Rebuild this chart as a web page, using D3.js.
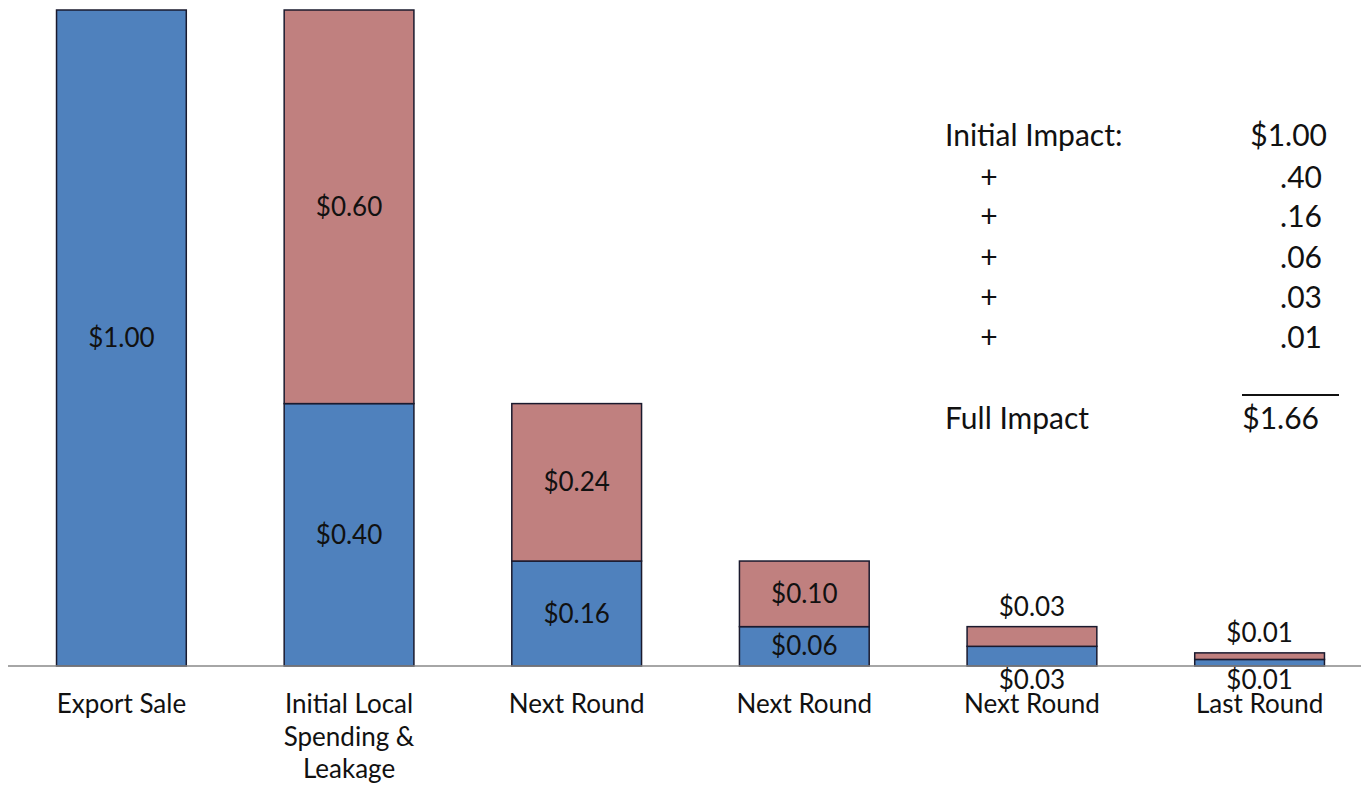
<!DOCTYPE html>
<html lang="en">
<head>
<meta charset="UTF-8">
<title>Export Multiplier</title>
<script src="https://cdn.jsdelivr.net/npm/d3@7"></script>
<style>
    body { margin: 0; background: white; }
    svg { display: block; }
    text { font-family: "Lato", "Open Sans", sans-serif; fill: #111; }
</style>
</head>
<body>
<svg width="1361" height="787"></svg>
<script>
    // data
    var categories = [["Export Sale"], ["Initial Local", "Spending &", "Leakage"], ["Next Round"], ["Next Round"], ["Next Round"], ["Last Round"]];
    var localSpend = [1.00, 0.40, 0.16, 0.06, 0.03, 0.01];
    var leakage = [0, 0.60, 0.24, 0.10, 0.03, 0.01];
    var summaryLabels = ["Initial Impact:", "+", "+", "+", "+", "+"];
    var summaryValues = ["$1.00", ".40", ".16", ".06", ".03", ".01"];
    var totalLabel = "Full Impact";
    var totalValue = "$1.66";

    var colors = {local: "#4f81bd", leakage: "#c0807f"};
    var fs = 26;   // bar + category labels
    var tfs = 30;  // summary table

    var svg = d3.select("svg");
    var rows = localSpend.map(function (d, i) {
        return {i: i, local: d, leakage: leakage[i]};
    });
    var series = d3.stack().keys(["local", "leakage"])(rows);

    var x = d3.scaleBand()
        .domain(d3.range(categories.length))
        .range([11, 1370])
        .paddingInner(0.43)
        .paddingOuter(0.2);
    var y = d3.scaleLinear().domain([0, 1]).range([666, 10]);

    // bars
    var layer = svg.selectAll(".layer")
        .data(series)
        .enter()
        .append("g")
        .attr("fill", function (d) { return colors[d.key]; });
    layer.selectAll("rect")
        .data(function (d) { return d.filter(function (p) { return p[1] - p[0] > 0; }); })
        .enter()
        .append("rect")
        .attr("x", function (d) { return x(d.data.i); })
        .attr("y", function (d) { return y(d[1]); })
        .attr("width", x.bandwidth())
        .attr("height", function (d) { return y(d[0]) - y(d[1]); })
        .attr("stroke", "#1a1a2e")
        .attr("stroke-width", 1.5);

    // segment labels: inside when tall enough, else above / below
    series.forEach(function (s) {
        s.forEach(function (p) {
            var v = p[1] - p[0];
            if (v <= 0) return;
            var h = y(p[0]) - y(p[1]);
            var cy;
            if (h > 30) cy = (y(p[0]) + y(p[1])) / 2 + fs * 0.35;
            else if (s.key === "local") cy = y(0) + 23;
            else cy = y(p[1]) - 11;
            svg.append("text")
                .attr("x", x(p.data.i) + x.bandwidth() / 2)
                .attr("y", cy)
                .attr("text-anchor", "middle")
                .style("font-size", fs + "px")
                .text("$" + d3.format(".2f")(v));
        });
    });

    // baseline
    svg.append("line")
        .attr("x1", 8).attr("x2", 1361)
        .attr("y1", y(0)).attr("y2", y(0))
        .attr("stroke", "#888").attr("stroke-width", 1.5);

    // category labels
    var cat = svg.selectAll(".cat")
        .data(categories)
        .enter()
        .append("text")
        .attr("text-anchor", "middle")
        .style("font-size", fs + "px")
        .attr("transform", function (d, i) {
            return "translate(" + (x(i) + x.bandwidth() / 2) + ",713)";
        });
    cat.selectAll("tspan")
        .data(function (d) { return d; })
        .enter()
        .append("tspan")
        .attr("x", 0)
        .attr("y", function (d, j) { return j * 32.5; })
        .text(function (d) { return d; });

    // summary table
    var rowY = [146, 188, 227, 268, 308, 348];
    summaryLabels.forEach(function (t, i) {
        svg.append("text")
            .attr("x", i === 0 ? 945 : 989)
            .attr("y", rowY[i])
            .attr("text-anchor", i === 0 ? "start" : "middle")
            .style("font-size", tfs + "px")
            .text(t);
        svg.append("text")
            .attr("x", i === 0 ? 1327 : 1322)
            .attr("y", rowY[i])
            .attr("text-anchor", "end")
            .style("font-size", tfs + "px")
            .text(summaryValues[i]);
    });
    svg.append("line")
        .attr("x1", 1242).attr("x2", 1339)
        .attr("y1", 395).attr("y2", 395)
        .attr("stroke", "#111").attr("stroke-width", 2);
    svg.append("text")
        .attr("x", 945).attr("y", 429)
        .style("font-size", tfs + "px")
        .text(totalLabel);
    svg.append("text")
        .attr("x", 1319).attr("y", 429)
        .attr("text-anchor", "end")
        .style("font-size", tfs + "px")
        .text(totalValue);
</script>
</body>
</html>
